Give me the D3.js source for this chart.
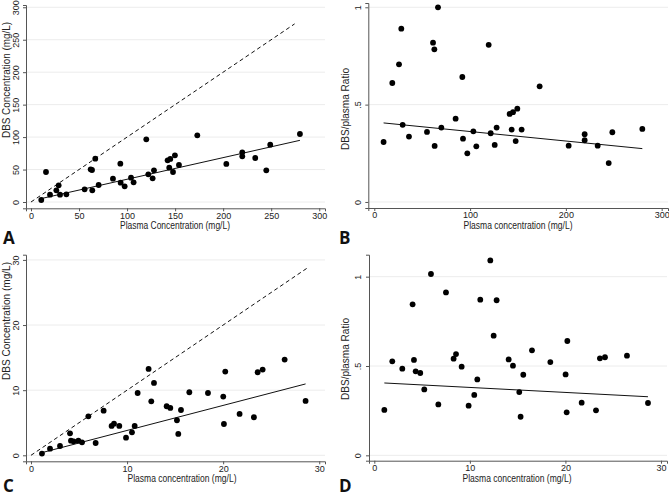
<!DOCTYPE html>
<html><head><meta charset="utf-8">
<script src="https://cdn.jsdelivr.net/npm/d3@7"></script>
<style>
body{margin:0;background:#fff;}
svg{display:block;font-family:"Liberation Sans",Arial,sans-serif;}
</style></head>
<body>
<svg id="c" width="669" height="496"></svg>
<script>
// Panel A: plasma vs DBS concentration (mg/L)
const aPlasma = [10.7,15.6,19.8,26.4,28.8,30.2,36.8,55.8,62.1,63.5,63.8,66.9,70.4,85.3,93.0,93.3,97.5,104.1,106.8,120.0,122.1,126.6,128.0,142.2,143.9,145.0,147.8,149.8,154.0,173.1,203.3,219.9,219.9,233.4,244.9,249.0,279.9];
const aDBS    = [3.1,46.2,11.3,18.0,25.7,11.3,11.8,19.5,50.3,49.3,18.0,66.8,26.2,36.0,59.1,29.8,24.1,37.5,30.3,96.6,42.6,36.5,48.8,64.2,52.9,66.3,46.2,71.9,57.0,102.7,58.6,76.5,70.4,67.8,48.8,88.3,104.8];
const aFit    = [[10.7,5.3],[279.9,95.0]];
const aIdentity = [[0,0],[274.4,274.4]];
// Panel B: plasma vs DBS/plasma ratio
const bPlasma = [9.7,18.8,25.8,28.2,29.6,36.2,55.0,61.3,62.7,63.0,66.5,70.0,84.9,91.9,92.6,97.1,103.4,106.5,119.4,121.5,125.7,127.7,141.3,143.4,144.8,147.6,149.3,153.8,172.6,202.9,219.6,219.6,233.2,244.7,248.5,279.8];
const bRatio  = [0.308,0.611,0.707,0.890,0.396,0.336,0.360,0.818,0.784,0.288,1.0,0.382,0.428,0.642,0.325,0.250,0.363,0.286,0.807,0.353,0.293,0.382,0.452,0.372,0.461,0.313,0.479,0.372,0.594,0.289,0.348,0.317,0.289,0.200,0.358,0.375];
const bFit    = [[9.7,0.406],[279.8,0.274]];
// Panel C
const cPlasma = [1.14,1.98,3.02,4.06,4.16,4.44,4.93,5.31,5.97,6.73,7.56,8.39,8.64,9.19,9.89,10.51,10.79,11.10,12.24,12.52,12.80,14.12,14.50,15.19,15.33,15.61,16.48,18.42,20.01,20.08,20.22,21.71,23.20,23.59,24.11,26.40,28.58];
const cDBS    = [0.26,1.02,1.43,3.38,2.25,2.15,2.25,2.0,5.99,1.89,6.86,4.51,4.86,4.51,2.71,3.53,4.51,9.57,13.26,8.29,11.11,7.53,7.27,5.38,3.28,6.96,9.68,9.57,9.01,4.81,12.85,6.35,5.84,12.75,13.16,14.70,8.35];
const cFit    = [[1.14,0.41],[28.58,10.96]];
const cIdentity = [[0,0],[28.7,28.7]];
// Panel D
const dPlasma = [1.05,1.88,2.93,4.01,4.15,4.33,4.81,5.23,5.93,6.70,7.50,8.30,8.55,9.14,9.87,10.46,10.78,11.09,12.14,12.49,12.80,14.06,14.51,15.17,15.31,15.59,16.50,18.42,20.02,20.13,20.20,21.70,23.20,23.61,24.14,26.44,28.64];
const dRatio  = [0.254,0.526,0.485,0.845,0.534,0.470,0.461,0.369,1.015,0.285,0.912,0.541,0.567,0.496,0.278,0.338,0.425,0.871,1.091,0.670,0.868,0.537,0.502,0.354,0.216,0.451,0.588,0.522,0.453,0.241,0.640,0.295,0.252,0.543,0.549,0.558,0.293];
const dFit    = [[1.05,0.405],[28.64,0.328]];

const ticksA = [0,50,100,150,200,250,300];
const ticksB_x = [0,100,200,300];
const ticksRatio = [0,0.5,1];
const ticks30 = [0,10,20,30];
const ratioLabels = ["0",".5","1"];

const panels = [
  {letter:"A", xs:aPlasma, ys:aDBS, fit:aFit, ident:aIdentity,
   xd:[-5.2,306], xr:[26,325], yd:[-9.7,303.5], yr:[208.3,5],
   xt:ticksA, yt:ticksA, ytf:d=>d, xTitle:"Plasma Concentration (mg/L)", yTitle:"DBS Concentration (mg/L)",
   xTitlePos:[175,229], yTitlePos:[9.5,80], xLen:110, yLen:116, lPos:[3,244], yLabX:19},
  {letter:"B", xs:bPlasma, ys:bRatio, fit:bFit, ident:null,
   xd:[-6.26,306.6], xr:[368.3,668], yd:[-0.031,1.022], yr:[208,3],
   xt:ticksB_x, yt:ticksRatio, ytf:(d,i)=>ratioLabels[i], xTitle:"Plasma concentration (mg/L)", yTitle:"DBS/plasma Ratio",
   xTitlePos:[518,229], yTitlePos:[349,109], xLen:109, yLen:82, lPos:[339,244], yLabX:361},
  {letter:"C", xs:cPlasma, ys:cDBS, fit:cFit, ident:cIdentity,
   xd:[-0.52,30.6], xr:[26,325], yd:[-0.92,30.8], yr:[461.3,254.7],
   xt:ticks30, yt:ticks30, ytf:d=>d, xTitle:"Plasma concentration (mg/L)", yTitle:"DBS Concentration (mg/L)",
   xTitlePos:[182,482], yTitlePos:[9.5,321], xLen:109, yLen:118, lPos:[3,492], yLabX:19},
  {letter:"D", xs:dPlasma, ys:dRatio, fit:dFit, ident:null,
   xd:[-0.555,30.63], xr:[369,667], yd:[-0.03,1.123], yr:[460.7,254.7],
   xt:ticks30, yt:ticksRatio, ytf:(d,i)=>ratioLabels[i], xTitle:"Plasma concentration (mg/L)", yTitle:"DBS/plasma Ratio",
   xTitlePos:[517,482], yTitlePos:[349,359], xLen:109, yLen:82, lPos:[339,492], yLabX:361}
];

const svg = d3.select("#c");
const axisCol = "#555";

panels.forEach(p => {
  const x = d3.scaleLinear().domain(p.xd).range(p.xr);
  const y = d3.scaleLinear().domain(p.yd).range(p.yr);
  const g = svg.append("g");

  // gridlines
  g.selectAll("line.grid").data(p.yt).join("line")
    .attr("x1", p.xr[0]).attr("x2", p.xr[1])
    .attr("y1", d=>y(d)).attr("y2", d=>y(d))
    .attr("stroke", "#ececec").attr("stroke-width", 1);

  // x axis
  const xa = g.append("g").attr("transform", `translate(0,${p.yr[0]})`)
    .call(d3.axisBottom(x).tickValues(p.xt).tickSize(3).tickPadding(1));
  xa.select(".domain").attr("stroke", axisCol);
  xa.selectAll(".tick line").attr("stroke", axisCol);
  xa.selectAll(".tick text").attr("font-size", 9).attr("fill", "#222")
    .attr("font-family", "inherit");

  // y axis
  const ya = g.append("g").attr("transform", `translate(${p.xr[0]},0)`)
    .call(d3.axisLeft(y).tickValues(p.yt).tickSize(3).tickFormat(p.ytf));
  ya.select(".domain").attr("stroke", axisCol);
  ya.selectAll(".tick line").attr("stroke", axisCol);
  ya.selectAll(".tick text").attr("font-size", 9).attr("fill", "#222")
    .attr("font-family", "inherit")
    .attr("x", null).attr("dy", null)
    .attr("text-anchor", "middle")
    .attr("transform", `translate(${p.yLabX - p.xr[0]},0) rotate(-90)`)
    .attr("y", 0);

  // identity line
  const lg = d3.line().x(d=>x(d[0])).y(d=>y(d[1]));
  if (p.ident) {
    g.append("path").attr("d", lg(p.ident)).attr("fill","none")
      .attr("stroke","#111").attr("stroke-width",1).attr("stroke-dasharray","4,3");
  }
  g.append("path").attr("d", lg(p.fit)).attr("fill","none")
    .attr("stroke","#111").attr("stroke-width",1);

  // points
  g.selectAll("circle").data(p.xs.map((v,i)=>[v,p.ys[i]])).join("circle")
    .attr("cx", d=>x(d[0])).attr("cy", d=>y(d[1])).attr("r", 2.9).attr("fill","#000");

  // titles
  g.append("text").attr("x", p.xTitlePos[0]).attr("y", p.xTitlePos[1])
    .attr("text-anchor","middle").attr("font-size",10).attr("fill","#222")
    .attr("textLength", p.xLen).attr("lengthAdjust","spacingAndGlyphs").text(p.xTitle);
  g.append("text").attr("transform", `translate(${p.yTitlePos[0]},${p.yTitlePos[1]}) rotate(-90)`)
    .attr("text-anchor","middle").attr("font-size",10).attr("fill","#222")
    .attr("textLength", p.yLen).attr("lengthAdjust","spacingAndGlyphs").text(p.yTitle);

  // panel letter
  g.append("text").attr("x", p.lPos[0]).attr("y", p.lPos[1])
    .attr("font-family","'Open Sans','Liberation Sans',Arial,sans-serif")
    .attr("font-weight","bold").attr("font-size",17).attr("fill","#111").text(p.letter);
});
</script>
</body></html>
